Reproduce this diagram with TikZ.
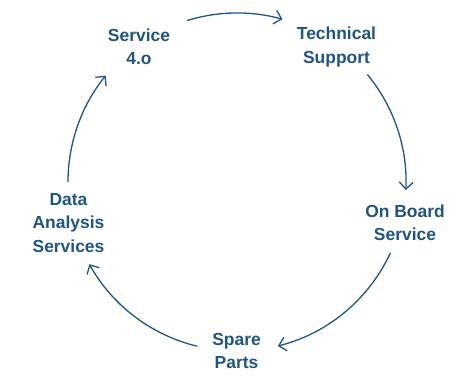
\documentclass[tikz,border=0pt]{standalone}
\usepackage{fontspec}
\setmainfont{Liberation Sans}
\usetikzlibrary{arrows.meta}
\definecolor{cycblue}{HTML}{1F5584}
\tikzset{
  lbl/.style={align=center, inner sep=0pt, text=cycblue,
    font=\fontsize{17.5}{23.5}\selectfont\bfseries},
  arr/.style={draw=cycblue, line width=1.3pt,
    -{Straight Barb[length=7pt,width=14pt,line width=1.3pt]}}
}
\begin{document}
\begin{tikzpicture}[x=1bp,y=1bp]
\useasboundingbox (0,0) rectangle (468,375);
\coordinate (c) at (237,193);
\node[lbl] (s40) at (139,328.5) {Service\\4.o};
\node[lbl] (tech) at (336.5,328) {Technical\\Support};
\node[lbl] (onb) at (405,152) {On Board\\Service};
\node[lbl] (spare) at (236.5,24) {Spare\\Parts};
\node[lbl] (data) at (68.5,152) {Data\\Analysis\\Services};
% arc start points
\path (c) ++(107.2:169) coordinate (a1);
\path (c) ++(39.5:169) coordinate (a2);
\path (c) ++(-24.8:169) coordinate (a3);
\path (c) ++(-103.6:169) coordinate (a4);
\path (c) ++(180:169) coordinate (a5);
\draw[arr] (a1) arc[start angle=107.2, end angle=74.4, radius=169];
\draw[arr] (a2) arc[start angle=39.5, end angle=-2.7, radius=169];
\draw[arr] (a3) arc[start angle=-24.8, end angle=-76, radius=169];
\draw[arr] (a4) arc[start angle=-103.6, end angle=-150.9, radius=169];
\draw[arr] (a5) arc[start angle=180, end angle=141, radius=169];
\end{tikzpicture}
\end{document}
